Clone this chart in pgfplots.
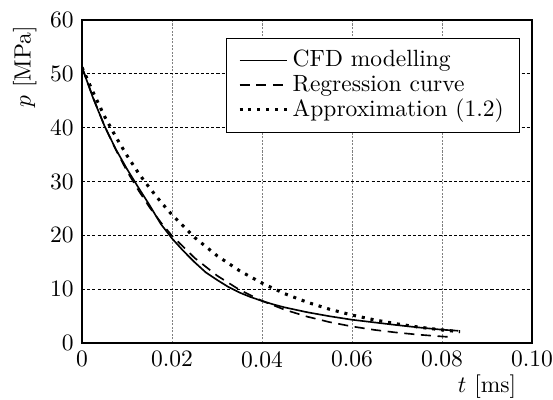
\documentclass[border=0pt]{standalone}
\usepackage{pgfplots}
\pgfplotsset{compat=1.18}
\begin{document}
\begin{tikzpicture}
\useasboundingbox (-34.9pt,-24.3pt) rectangle (200.4pt,145.9pt);
\begin{axis}[
  at={(0pt,0pt)}, anchor=south west,
  scale only axis, width=191.5pt, height=137.4pt,
  xmin=0, xmax=0.1, ymin=0, ymax=60,
  xtick={0,0.02,0.04,0.06,0.08,0.1},
  xticklabels={0,0.02,0.04,0.06,0.08,0.10},
  ytick={0,10,20,30,40,50,60},
  tick style={draw=none},
  axis line style={line width=0.9pt},
  grid=major,
  x grid style={gray, line width=0.4pt, dash pattern=on 0.9pt off 0.6pt},
  y grid style={black, line width=0.4pt, dash pattern=on 1.3pt off 0.9pt},
  xlabel={$t$ [ms]}, ylabel={$p$ [MPa]},
  every axis x label/.style={at={(axis description cs:0.9,-0.136)}, anchor=center},
  every axis y label/.style={at={(axis description cs:-0.127,0.855)}, rotate=90, anchor=center},
  legend cell align=left,
  legend style={at={(axis description cs:0.973,0.944)}, anchor=north east, draw=black,
    inner xsep=4.7pt, inner ysep=3pt, row sep=-2pt},
  legend image code/.code={\draw[#1] (0pt,0pt) -- (20pt,0pt);},
]
\addplot[black, line width=0.7pt] coordinates {
(0,51.2) (0.0025,45.4) (0.005,40.3) (0.0075,36.0) (0.010,32.3) (0.0125,28.9)
(0.015,25.6) (0.0175,22.1) (0.020,19.4) (0.0225,17.1) (0.025,15.0) (0.0275,13.1)
(0.030,11.7) (0.0325,10.4) (0.035,9.35) (0.0375,8.5) (0.040,7.8) (0.0425,7.15)
(0.045,6.6) (0.050,5.7) (0.055,4.95) (0.060,4.3) (0.065,3.8) (0.070,3.3)
(0.075,2.85) (0.080,2.45) (0.0836,2.25)
};
\addlegendentry{CFD modelling}
\addplot[black, line width=0.7pt, dash pattern=on 4.3pt off 2.8pt] coordinates {
(0,51.2) (0.0025,45.5) (0.005,40.3) (0.0075,35.9) (0.010,31.9) (0.0125,28.4) (0.015,25.2)
(0.0175,22.4) (0.020,19.9) (0.025,15.8) (0.030,12.5) (0.035,9.86) (0.040,7.8)
(0.045,6.17) (0.050,4.88) (0.055,3.86) (0.060,3.05) (0.065,2.41)
(0.070,1.91) (0.075,1.51) (0.080,1.19) (0.0825,1.06)
};
\addlegendentry{Regression curve}
\addplot[black, line width=1.3pt, dash pattern=on 1.3pt off 2.5pt] coordinates {
(0,51.2) (0.0025,46.5) (0.005,42.1) (0.0075,38.3) (0.010,34.8) (0.0125,31.6) (0.015,28.8)
(0.0175,26.2) (0.020,23.8) (0.025,19.6) (0.030,16.2) (0.035,13.4) (0.040,11.1)
(0.045,9.15) (0.050,7.56) (0.055,6.25) (0.060,5.17) (0.065,4.27)
(0.070,3.53) (0.075,2.91) (0.080,2.41) (0.084,2.07)
};
\addlegendentry{Approximation (1.2)}
\end{axis}
\end{tikzpicture}
\end{document}
